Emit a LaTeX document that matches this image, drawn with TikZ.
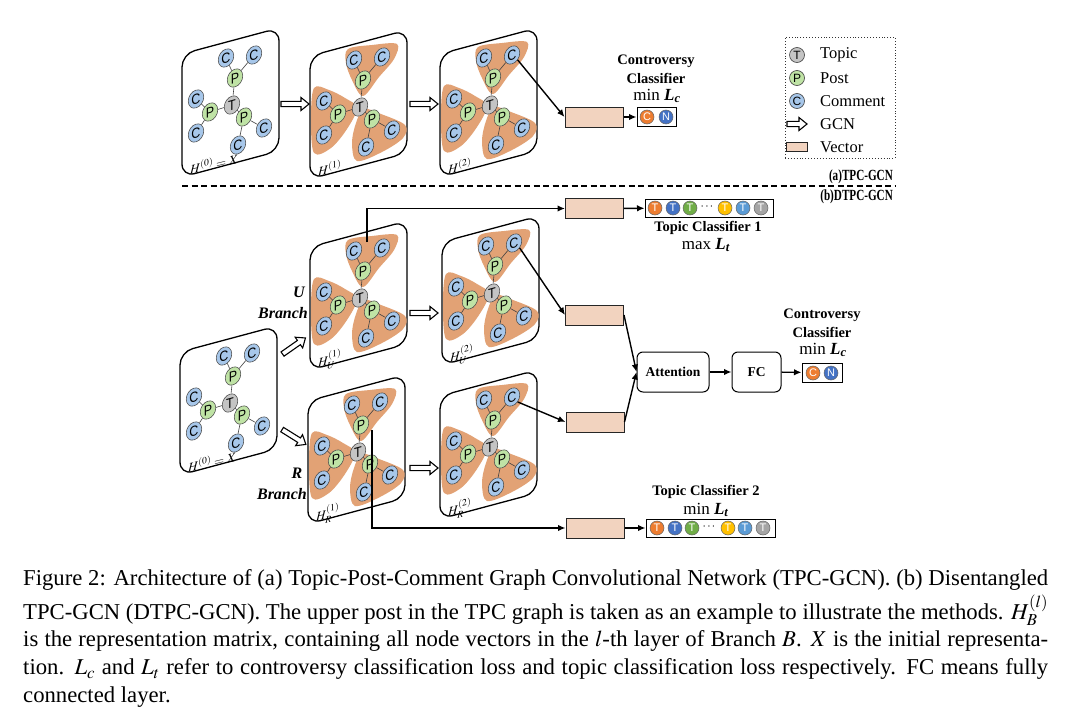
\documentclass[tikz,border=0pt]{standalone}
\usepackage{mathptmx}
\usepackage{fontspec}
\setmainfont{Liberation Serif}
\setsansfont{Liberation Sans}
\usetikzlibrary{arrows.meta}
\newcommand\fsz[1]{\fontsize{#1}{#1}\selectfont}
\newcommand\Lbi[1]{\textbf{\textit{L}}\textsubscript{\textbf{\textit{#1}}}}
\definecolor{cCm}{HTML}{A7C7EA}
\definecolor{cPo}{HTML}{BFE3A5}
\definecolor{cTo}{HTML}{C4C4C4}
\definecolor{blobc}{HTML}{E2A275}
\definecolor{vecc}{HTML}{F2D3BF}
\definecolor{oOr}{HTML}{ED7D31}
\definecolor{oBl}{HTML}{4472C4}
\definecolor{oGr}{HTML}{70AD47}
\definecolor{oYe}{HTML}{FFC000}
\definecolor{oLb}{HTML}{5B9BD5}
\definecolor{oGy}{HTML}{A5A5A5}
\tikzset{
  panelbox/.style={draw=black, line width=1.3pt, fill=white, rounded corners=13pt},
  blobst/.style={fill=blobc},
  gn/.style={circle, draw=black!70, line width=0.55pt, inner sep=0pt, minimum size=15.5pt,
    font=\sffamily\fsz{12.5}, transform shape, cm={1,0.28,0,1.15,(0,0)}},
  gC/.style={gn, fill=cCm},
  gP/.style={gn, fill=cPo},
  gT/.style={gn, fill=cTo},
  gedge/.style={draw=black!75, line width=0.6pt},
  plabel/.style={font=\fsz{13}, transform shape, cm={1,0.25,0,1,(0,0)}, inner sep=0pt},
  garrow/.style={draw=black, line width=1.1pt, fill=white, line join=miter},
  vecbox/.style={draw=black!85, line width=1pt, fill=vecc, minimum width=58pt, minimum height=20pt, inner sep=0pt},
  outbox/.style={draw=black, line width=1pt, fill=white, inner sep=0pt},
  oc/.style={circle, draw=black!60, line width=0.5pt, minimum size=14pt, inner sep=0pt, text=white, font=\sffamily\fsz{11}},
  arr/.style={-{Latex[length=7.5pt,width=6.5pt]}, line width=1.4pt},
  procbox/.style={draw, rounded corners=6pt, line width=1pt, font=\bfseries\fsz{13.5}, minimum height=40pt, inner sep=0pt},
  bl14/.style={font=\bfseries\fsz{14.5}, inner sep=0pt},
  ml17/.style={font=\fsz{17}, inner sep=0pt},
  bi16/.style={font=\bfseries\itshape\fsz{16}, inner sep=0pt},
  legc/.style={circle, draw=black!75, line width=0.6pt, minimum size=15pt, inner sep=0pt, font=\sffamily\fsz{12}},
  legt/.style={anchor=west, font=\fsz{16.5}, inner sep=0pt},
  secl/.style={anchor=east, font=\bfseries\fsz{15.5}, xscale=0.72, transform shape, inner sep=0pt}
}
\newcommand\tpcpanel[5]{%
\begin{scope}[shift={(#2,#3)}]
\draw[panelbox] (-50,-51) -- (47,-77) -- (47,46) -- (-50,72) -- cycle;
\ifnum#5=1
\fill[blobst] plot[smooth cycle, tension=0.55] coordinates {(3,-11) (-8,-27) (-14,-44) (-12,-58) (12,-62) (37,-63) (34,-48) (19,-30)};
\fill[blobst] plot[smooth cycle, tension=0.55] coordinates {(-3,1) (-15,-9) (-31,-17) (-46,-19) (-49,12) (-46,46) (-29,41) (-13,22)};
\fill[blobst] plot[smooth cycle, tension=0.55] coordinates {(4,2) (21,7) (45,18) (43,31) (22,45) (-3,54) (-8,36) (-4,16)};
\fi
\node[gT] (#1T) at (0,0) {T};
\node[gP] (#1Pu) at (3,-27) {P};
\node[gC] (#1Cua) at (-6,-47) {C};
\node[gC] (#1Cub) at (22,-50) {C};
\node[gP] (#1Pl) at (-22,7) {P};
\node[gC] (#1Cla) at (-36,-6) {C};
\node[gC] (#1Clb) at (-36,28) {C};
\node[gP] (#1Pr) at (12,12) {P};
\node[gC] (#1Cra) at (32,23) {C};
\node[gC] (#1Crb) at (6,40) {C};
\draw[gedge] (#1T) -- (#1Pu) (#1Pu) -- (#1Cua) (#1Pu) -- (#1Cub)
  (#1T) -- (#1Pl) (#1Pl) -- (#1Cla) (#1Pl) -- (#1Clb)
  (#1T) -- (#1Pr) (#1Pr) -- (#1Cra) (#1Pr) -- (#1Crb);
\node[plabel, anchor=base west] (#1lab) at (-42,70) {#4};
\end{scope}}
\newcommand\garw[4]{\draw[garrow, shift={(#1,#2)}, rotate=#3] ({-#4/2},-2.6) -- ({#4/2-8},-2.6) -- ({#4/2-8},-6.5) -- ({#4/2},0) -- ({#4/2-8},6.5) -- ({#4/2-8},2.6) -- ({-#4/2},2.6) -- cycle;}
\begin{document}
\begin{tikzpicture}[x=1pt,y=-1pt]
\useasboundingbox (0,0) rectangle (1080,712);
\fill[white] (0,0) rectangle (1080,712);

% ---------- panels ----------
\tpcpanel{pa}{232}{105}{$H^{(0)}=X$}{0}
\tpcpanel{pb}{360}{107}{$H^{(1)}$}{1}
\tpcpanel{pc}{490}{105}{$H^{(2)}$}{1}
\tpcpanel{in}{230}{403}{$H^{(0)}=X$}{0}
\tpcpanel{ua}{360}{298}{$H_U^{(1)}$}{1}
\tpcpanel{ub}{492}{293}{$H_U^{(2)}$}{1}
\tpcpanel{ra}{358}{452}{$H_R^{(1)}$}{1}
\tpcpanel{rb}{490}{447}{$H_R^{(2)}$}{1}

% ---------- GCN arrows ----------
\garw{295}{104}{0}{28}
\garw{424}{104}{0}{28}
\garw{294}{346}{35}{28}
\garw{294}{437}{-32}{28}
\garw{424}{313}{0}{28}
\garw{424}{468}{0}{28}

% ---------- branch labels ----------
\node[bi16] (uL) at (299,292) {U};
\node[bi16] (uB) at (283,313) {Branch};
\node[bi16] (rL) at (297,473) {R};
\node[bi16] (rB) at (282,494) {Branch};

% ---------- legend ----------
\node[draw=black!80, dotted, line width=0.9pt, minimum width=110pt, minimum height=121pt, inner sep=0pt] (leg) at (840,97.5) {};
\node[legc, fill=cTo] (lgT) at (797,55) {T};
\node[legt] (lgTt) at (820,55) {Topic};
\node[legc, fill=cPo] (lgP) at (797,78) {P};
\node[legt] (lgPt) at (820,78) {Post};
\node[legc, fill=cCm] (lgC) at (797,101) {C};
\node[legt] (lgCt) at (820,101) {Comment};
\garw{797}{124}{0}{20}
\node[legt] (lgGt) at (820,124) {GCN};
\node[draw=black!85, line width=0.9pt, fill=vecc, minimum width=21pt, minimum height=9pt, inner sep=0pt] (lgV) at (797,147) {};
\node[legt] (lgVt) at (820,147) {Vector};

% ---------- section labels & separator ----------
\node[secl] (secA) at (893,177) {(a)TPC-GCN};
\node[secl] (secB) at (893,197) {(b)DTPC-GCN};
\coordinate (dl) at (182,186);
\coordinate (dr) at (896,186);
\draw[line width=1.3pt, dash pattern=on 6pt off 3.5pt] (dl) -- (dr);

% ---------- vectors ----------
\node[vecbox] (vT) at (594,117) {};
\node[vecbox] (vU1) at (594.5,208.5) {};
\node[vecbox] (vU2) at (594.5,315) {};
\node[vecbox] (vR2) at (595,422) {};
\node[vecbox] (vR1) at (595,528) {};

% ---------- outputs ----------
\node[outbox, minimum width=39pt, minimum height=19pt] (oTop) at (656.5,117) {};
\node[oc, fill=oOr] (oTopC) at (647,117) {C};
\node[oc, fill=oBl] (oTopN) at (666,117) {N};

\node[outbox, minimum width=128pt, minimum height=18pt] (oU) at (709,208) {};
\node[oc, fill=oOr] (oU1) at (655,208) {T};
\node[oc, fill=oBl] (oU2) at (673,208) {T};
\node[oc, fill=oGr] (oU3) at (690,208) {T};
\node[inner sep=0pt, font=\fsz{12}] (oUd) at (707,207) {$\cdots$};
\node[oc, fill=oYe] (oU4) at (725,208) {T};
\node[oc, fill=oLb] (oU5) at (743,208) {T};
\node[oc, fill=oGy] (oU6) at (761,208) {T};

\node[outbox, minimum width=129pt, minimum height=18pt] (oR) at (710.5,528) {};
\node[oc, fill=oOr] (oR1) at (657,528) {T};
\node[oc, fill=oBl] (oR2) at (675,528) {T};
\node[oc, fill=oGr] (oR3) at (692,528) {T};
\node[inner sep=0pt, font=\fsz{12}] (oRd) at (709,527) {$\cdots$};
\node[oc, fill=oYe] (oR4) at (728,528) {T};
\node[oc, fill=oLb] (oR5) at (745,528) {T};
\node[oc, fill=oGy] (oR6) at (763,528) {T};

\node[outbox, minimum width=40pt, minimum height=19pt] (oB) at (822,372.5) {};
\node[oc, fill=oOr] (oBC) at (813,373) {C};
\node[oc, fill=oBl] (oBN) at (831,373) {N};

\node[procbox, minimum width=72pt] (att) at (673,372) {Attention};
\node[procbox, minimum width=49pt] (fc) at (756.5,372) {FC};

% ---------- classifier labels ----------
\node[bl14] (t1a) at (656,61) {Controversy};
\node[bl14] (t1b) at (656,78) {Classifier};
\node[ml17] (t1c) at (657,96) {min \Lbi{c}};
\node[bl14] (t2a) at (822,315) {Controversy};
\node[bl14] (t2b) at (822,332) {Classifier};
\node[ml17] (t2c) at (823,350) {min \Lbi{c}};
\node[bl14] (t3a) at (708,228) {Topic Classifier 1};
\node[ml17] (t3b) at (706,245) {max \Lbi{t}};
\node[bl14] (t4a) at (706,492) {Topic Classifier 2};
\node[ml17] (t4b) at (706,510) {min \Lbi{t}};

% ---------- connectors ----------
\draw[arr] (pcCub.south east) -- (vT.west);
\draw[arr] (vT) -- (oTop);
\coordinate (u1s) at (367,242);
\draw[arr] (u1s) |- (vU1.west);
\draw[arr] (vU1) -- (oU);
\draw[arr] (ubCub.south east) -- (vU2.west);
\draw[arr] (rbCub.south east) -- (vR2.west);
\coordinate (r1s) at (372,430);
\draw[arr] (r1s) |- (vR1.west);
\draw[arr] (vR1) -- (oR);
\draw[arr] (vU2.east) -- (att.west);
\draw[arr] (vR2.east) -- (att.west);
\draw[arr] (att) -- (fc);
\draw[arr] (fc) -- (oB);

% ---------- caption ----------
\node[anchor=north west, inner sep=0pt, text width=1025pt, align=justify,
  font=\fontsize{22.7}{27.8}\selectfont] (cap) at (23,565.5)
{\strut Figure 2: Architecture of (a) Topic-Post-Comment Graph Convolutional Network (TPC-GCN). (b) Disentangled\linebreak
TPC-GCN (DTPC-GCN). The upper post in the TPC graph is taken as an example to illustrate the methods. $H_B^{(l)}$\linebreak
is the representation matrix, containing all node vectors in the $l$-th layer of Branch $B$. $X$ is the initial representa-\linebreak
tion. $L_c$ and $L_t$ refer to controversy classification loss and topic classification loss respectively. FC means fully\linebreak
connected layer.};
\end{tikzpicture}
\end{document}
